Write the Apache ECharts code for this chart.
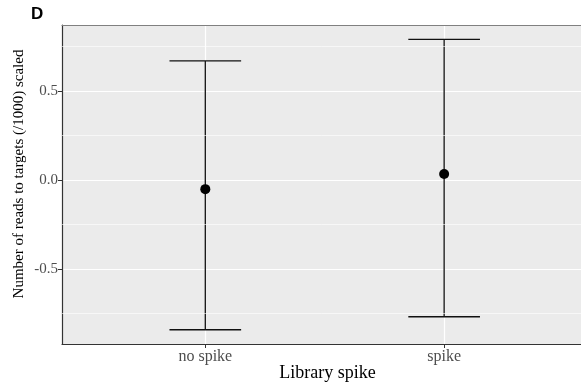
<!DOCTYPE html>
<html>
<head>
<meta charset="utf-8">
<script src="https://cdn.jsdelivr.net/npm/echarts@6/dist/echarts.min.js"></script>
<style>html,body{margin:0;padding:0;background:#fff}#c{width:581px;height:390px}</style>
</head>
<body>
<div id="c"></div>
<script>
// Data
const categories = ["no spike", "spike"];
const means = [-0.051, 0.034];
const lowers = [-0.841, -0.768];
const uppers = [0.669, 0.790];
const yTicks = [-0.5, 0, 0.5];
const yMinorGrid = [-0.75, -0.25, 0.25, 0.75];
const xTicks = [1, 2];
const xTitle = "Library spike";
const yTitle = "Number of reads to targets (/1000) scaled";

const chart = echarts.init(document.getElementById('c'), null, {renderer: 'canvas'});

const errData = categories.map((c, i) => [i + 1, lowers[i], uppers[i]]);
const meanData = categories.map((c, i) => [i + 1, means[i]]);

const serif = "Liberation Serif";
const XMIN = 0.4, XMAX = 2.573;

chart.setOption({
  animation: false,
  graphic: [
    {type: 'text', left: 31, top: 6,
     style: {text: 'D', font: 'bold 17px "Liberation Sans"', fill: '#000'}},
    {type: 'text', x: 327.5, y: 382,
     style: {text: xTitle, font: '18px "Liberation Serif"', fill: '#000', textAlign: 'center', textVerticalAlign: 'bottom'}},
    {type: 'text', x: 19, y: 174, rotation: Math.PI / 2,
     style: {text: yTitle, font: '15px "Liberation Serif"', fill: '#000', textAlign: 'center', textVerticalAlign: 'middle'}}
  ],
  grid: {
    left: 62, top: 25, bottom: 46, right: 0,
    show: true, backgroundColor: '#EBEBEB', borderWidth: 0
  },
  xAxis: [{
    type: 'value', min: XMIN, max: XMAX,
    axisLine: {show: true, onZero: false, lineStyle: {color: '#333', width: 1.2}},
    axisTick: {show: true, customValues: xTicks, length: 4, lineStyle: {color: '#333', width: 1}},
    axisLabel: {customValues: xTicks, margin: 5, fontFamily: serif, fontSize: 16, color: '#4D4D4D',
      formatter: v => categories[Math.round(v) - 1] || ''},
    splitLine: {show: true, lineStyle: {color: '#fff', width: 1.2}},
    minorSplitLine: {show: false}
  }, {
    type: 'value', min: XMIN, max: XMAX, position: 'top',
    axisLine: {show: true, onZero: false, lineStyle: {color: '#808080', width: 1.2}},
    axisTick: {show: false}, axisLabel: {show: false}, splitLine: {show: false}
  }],
  yAxis: {
    type: 'value', min: -0.921, max: 0.871,
    axisLine: {show: true, onZero: false, lineStyle: {color: '#333', width: 1.2}},
    axisTick: {show: true, customValues: yTicks, length: 4, lineStyle: {color: '#333', width: 1}},
    axisLabel: {customValues: yTicks, margin: 4, fontFamily: serif, fontSize: 15, color: '#4D4D4D',
      formatter: v => v.toFixed(1)},
    splitLine: {show: true, lineStyle: {color: '#fff', width: 1.2}}
  },
  series: [
    {
      type: 'line', data: [], silent: true, z: 1,
      markLine: {
        silent: true, symbol: 'none', label: {show: false},
        lineStyle: {color: '#fff', width: 0.6, type: 'solid'},
        data: yMinorGrid.map(v => ({yAxis: v}))
      }
    },
    {
      type: 'custom', z: 3,
      data: errData,
      renderItem: function (params, api) {
        const x = api.value(0);
        const lo = api.coord([x, api.value(1)]);
        const hi = api.coord([x, api.value(2)]);
        const half = api.size([0.3, 0])[0] / 2;
        const st = {stroke: '#111', lineWidth: 1.3};
        return {
          type: 'group',
          children: [
            {type: 'line', shape: {x1: lo[0], y1: lo[1], x2: hi[0], y2: hi[1]}, style: st},
            {type: 'line', shape: {x1: lo[0] - half, y1: lo[1], x2: lo[0] + half, y2: lo[1]}, style: st},
            {type: 'line', shape: {x1: hi[0] - half, y1: hi[1], x2: hi[0] + half, y2: hi[1]}, style: st}
          ]
        };
      }
    },
    {
      type: 'scatter', z: 4, data: meanData, symbol: 'circle', symbolSize: 10,
      itemStyle: {color: '#000', opacity: 1}
    }
  ]
});
</script>
</body>
</html>
